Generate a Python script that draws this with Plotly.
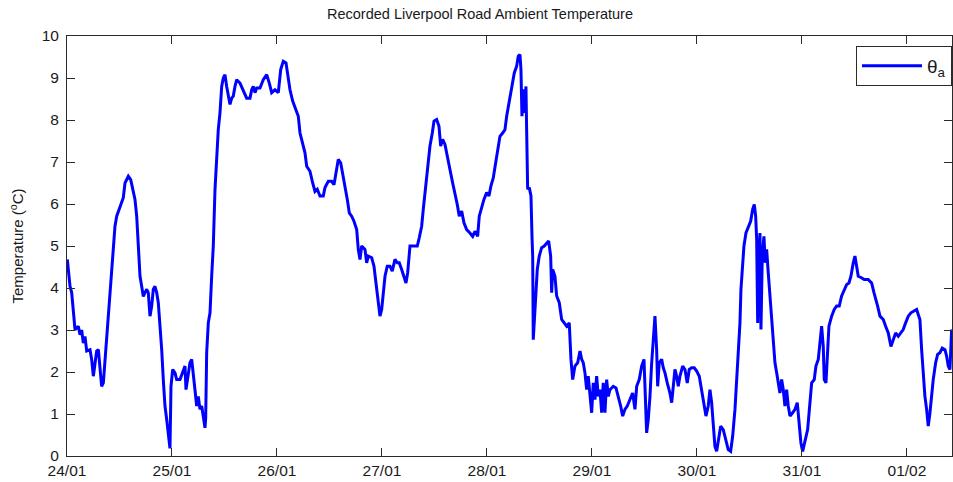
import pandas as pd
import plotly.graph_objects as go

# Hours since 24/01 00:00
hours = [
    0.07, 0.69, 1.07, 1.45, 1.83, 2.59, 2.97, 3.35, 3.73, 4.11, 4.50, 5.26, 5.64, 6.02, 6.40, 6.78,
    7.17, 7.54, 7.92, 8.31, 8.69, 9.07, 9.45, 9.83, 10.21, 10.59, 10.97, 11.36, 11.95, 12.50, 12.87,
    13.26, 14.02, 14.56, 15.02, 15.54, 15.93, 16.30, 16.69, 17.07, 17.44, 17.83, 18.22, 18.58, 18.97,
    19.36, 19.73, 20.11, 20.50, 20.87, 21.26, 21.65, 22.01, 22.40, 22.79, 23.02, 23.38, 23.54, 23.77,
    24.16, 24.69, 25.07, 25.83, 26.58, 26.97, 27.20, 27.59, 28.11, 28.50, 28.87, 29.26, 29.65, 30.01,
    30.40, 30.79, 31.15, 31.54, 31.70, 31.93, 32.30, 32.69, 33.07, 33.44, 33.83, 34.22, 34.58, 34.97,
    35.36, 35.73, 36.11, 36.50, 36.87, 37.26, 37.65, 38.01, 38.40, 38.79, 39.54, 40.30, 41.07, 41.83,
    42.22, 42.58, 42.97, 43.36, 44.11, 44.87, 45.65, 46.24, 46.79, 47.54, 48.30, 48.85, 49.44, 50.06,
    50.45, 50.97, 51.59, 52.34, 52.87, 53.26, 53.87, 54.40, 54.79, 55.54, 56.16, 56.69, 57.21, 57.83,
    58.58, 58.97, 59.73, 60.50, 61.03, 61.49, 62.01, 62.56, 63.02, 63.54, 64.07, 64.53, 65.07, 65.60,
    66.22, 66.58, 66.97, 67.36, 68.11, 68.50, 68.87, 69.65, 70.17, 70.63, 71.15, 71.54, 71.93, 72.30,
    72.69, 73.21, 73.83, 74.35, 74.97, 75.50, 75.95, 76.50, 77.03, 77.49, 77.87, 78.40, 79.15, 80.07,
    80.53, 81.07, 81.44, 81.99, 82.45, 82.97, 83.50, 83.89, 84.50, 85.03, 85.42, 85.87, 86.40, 86.93,
    87.54, 88.16, 88.69, 89.21, 89.67, 90.22, 90.74, 91.36, 92.11, 92.73, 93.26, 93.87, 94.24, 94.79,
    95.31, 95.93, 96.46, 96.91, 97.44, 97.99, 98.51, 98.97, 99.59, 100.11, 100.50, 100.87, 101.42,
    101.88, 102.24, 102.79, 103.15, 103.54, 103.77, 104.00, 104.30, 104.69, 104.91, 105.07, 105.30,
    105.67, 106.06, 106.29, 106.45, 106.58, 106.90, 107.20, 107.50, 107.95, 108.50, 109.10, 109.65,
    110.10, 110.56, 110.79, 111.02, 111.54, 111.93, 112.53, 113.07, 113.60, 114.22, 114.81, 115.20,
    115.59, 116.11, 116.73, 117.26, 117.65, 118.01, 118.40, 118.79, 119.15, 119.54, 119.93, 120.30,
    120.69, 121.07, 121.44, 121.83, 122.22, 122.58, 122.97, 123.36, 123.73, 124.11, 124.87, 125.49,
    126.01, 126.56, 127.02, 127.54, 128.07, 128.69, 129.30, 129.83, 130.22, 130.81, 131.36, 131.89,
    132.27, 132.50, 132.87, 133.26, 133.65, 134.01, 134.40, 134.79, 135.02, 135.38, 135.93, 136.30,
    136.69, 137.21, 137.83, 138.22, 138.58, 138.97, 139.36, 139.73, 140.11, 140.73, 141.26, 141.78,
    142.24, 142.79, 143.38, 143.93, 144.53, 145.07, 145.60, 146.06, 146.58, 146.97, 147.36, 147.73,
    148.11, 148.50, 148.87, 149.42, 150.01, 150.56, 151.15, 151.70, 152.16, 152.69, 153.07, 153.44,
    153.83, 154.06, 154.35, 154.74, 155.20, 155.73, 156.27, 156.73, 157.10, 157.42, 157.65, 157.88,
    158.11, 158.40, 158.63, 158.93, 159.31, 159.61, 159.93, 160.30, 160.69, 161.07, 161.44, 161.83,
    162.22, 162.58, 162.97, 163.36, 163.73, 164.11, 164.50, 164.87, 165.26, 165.87, 166.40, 166.93,
    167.38, 167.77, 168.16, 168.69, 169.30, 169.83, 170.22, 170.81, 171.20, 171.73, 172.11, 172.50,
    172.87, 173.10, 173.49, 173.87, 174.17, 174.79, 175.38, 175.93, 176.53, 177.07, 177.67, 178.21,
    178.74, 179.20, 179.73, 180.11, 180.50, 180.87, 181.49, 182.24, 183.15, 183.93, 184.46, 184.91,
    185.30, 185.83, 186.59, 187.13, 187.73, 188.34, 188.87, 189.42, 190.01, 190.63, 191.15, 191.70,
    192.30, 192.91, 193.67, 194.22, 194.58, 194.97, 195.36, 195.73, 196.11, 196.50, 196.87, 197.26,
    197.65, 198.01, 198.56, 199.02, 199.54, 200.07, 200.69, 201.07, 201.44, 201.83, 202.22, 202.51,
]

temps = [
    4.68, 4.04, 3.89, 3.41, 3.01, 3.09, 2.89, 3.00, 2.69, 2.85, 2.50, 2.53, 2.30, 1.90, 2.20, 2.50,
    2.53, 2.14, 1.66, 1.74, 2.30, 2.69, 3.17, 3.80, 4.36, 4.92, 5.47, 5.71, 5.87, 6.03, 6.15,
    6.50, 6.66, 6.58, 6.35, 6.11, 5.71, 5.08, 4.28, 4.04, 3.80, 3.89, 3.97, 3.89, 3.33,
    3.57, 3.97, 4.04, 3.89, 3.65, 3.17, 2.53, 1.82, 1.19, 0.87, 0.63, 0.23, 0.18, 1.66,
    2.06, 1.98, 1.82, 1.82, 2.06, 2.14, 1.58, 1.90, 2.22, 2.30, 1.90, 1.50, 1.19, 1.42,
    1.11, 1.19, 0.95, 0.67, 0.90, 2.46, 3.17, 3.41, 4.28, 5.00, 6.35, 7.14, 7.77, 8.17,
    8.80, 9.00, 9.08, 8.80, 8.57, 8.37, 8.52, 8.57, 8.80, 8.96, 8.88, 8.69, 8.52, 8.52,
    8.72, 8.80, 8.65, 8.76, 8.76, 8.96, 9.08, 8.88, 8.65, 8.72, 8.65, 9.20, 9.40, 9.36,
    9.04, 8.72, 8.45, 8.21, 8.09, 7.69, 7.46, 7.22, 6.90, 6.78, 6.50, 6.30, 6.35, 6.19,
    6.19, 6.39, 6.54, 6.54, 6.46, 6.74, 7.06, 6.98, 6.74, 6.43, 6.11, 5.79, 5.71, 5.59,
    5.39, 4.92, 4.68, 5.00, 4.92, 4.60, 4.76, 4.72, 4.52, 4.12, 3.73, 3.33, 3.49, 3.81,
    4.28, 4.52, 4.52, 4.40, 4.68, 4.60, 4.60, 4.44, 4.25, 4.12, 4.36, 5.00, 5.00, 5.00,
    5.20, 5.47, 5.87, 6.42, 6.98, 7.38, 7.69, 7.97, 8.01, 7.85, 7.38, 7.54, 7.42, 7.10,
    6.82, 6.50, 6.27, 5.99, 5.71, 5.83, 5.55, 5.39, 5.31, 5.23, 5.35, 5.23, 5.71, 5.95,
    6.11, 6.27, 6.19, 6.43, 6.62, 6.98, 7.30, 7.61, 7.69, 7.77, 8.09, 8.33, 8.61,
    8.96, 9.12, 9.28, 9.52, 9.56, 9.20, 8.09, 8.73, 8.17, 8.80, 7.77, 6.35,
    6.39, 6.19, 5.23, 4.76, 2.77, 3.33, 3.89, 4.44, 4.76, 4.96, 5.00, 5.08,
    5.12, 4.76, 3.89, 4.44, 4.28, 3.81, 3.65, 3.25, 3.17, 3.09, 3.17, 2.30,
    1.82, 2.14, 2.22, 2.50, 2.30, 2.22, 1.98, 1.58, 1.90, 1.50, 1.03, 1.74,
    1.34, 1.90, 1.42, 1.58, 1.03, 1.74, 1.03, 1.82, 1.42, 1.58, 1.66, 1.62,
    1.42, 1.19, 0.95, 1.11, 1.19, 1.34, 1.50, 1.11, 1.66, 1.82, 2.14, 2.30,
    1.27, 0.55, 0.87, 1.42, 2.22, 2.69, 3.33, 2.53, 1.66, 2.22, 2.30, 2.10,
    1.98, 1.74, 1.50, 1.27, 1.58, 2.06, 1.90, 1.66, 1.90, 2.14, 2.06, 1.74,
    2.06, 2.10, 2.10, 2.02, 1.90, 1.58, 1.27, 0.95, 1.19, 1.58, 1.27, 0.63,
    0.23, 0.11, 0.39, 0.71, 0.63, 0.39, 0.15, 0.11, 0.47, 1.11, 1.82, 2.53,
    3.17, 3.97, 4.44, 5.00, 5.31, 5.47, 5.59, 5.87, 5.99, 5.71, 5.16, 3.17,
    4.60, 5.31, 3.01, 4.76, 5.23, 4.60, 4.92, 4.36, 3.81, 3.25, 2.77, 2.22,
    1.98, 1.74, 1.50, 1.82, 1.58, 1.19, 1.58, 1.19, 0.95, 1.03, 1.11, 1.27,
    0.79, 0.31, 0.11, 0.39, 0.63, 1.27, 1.74, 1.82, 2.14, 2.30, 2.69, 3.09,
    2.61, 1.82, 1.74, 2.53, 3.09, 3.33, 3.49, 3.57, 3.57, 3.81, 3.97, 4.08,
    4.12, 4.28, 4.60, 4.76, 4.52, 4.28, 4.25, 4.20, 4.20, 4.12, 3.89, 3.73,
    3.57, 3.33, 3.25, 3.09, 2.93, 2.61, 2.77, 2.93, 2.85, 2.93, 3.01, 3.17,
    3.33, 3.41, 3.45, 3.49, 3.37, 3.25, 2.53, 1.90, 1.42, 1.11, 0.71, 1.03,
    1.50, 1.82, 2.22, 2.42, 2.46, 2.57, 2.53, 2.38, 2.14, 2.06, 3.01, 2.77,
]

start = pd.Timestamp("2011-01-24 00:00")
times = start + pd.to_timedelta(hours, unit="h")
x_end = start + pd.to_timedelta(202.3, unit="h")

tick_vals = [start + pd.Timedelta(days=d) for d in range(9)]
tick_text = ["24/01", "25/01", "26/01", "27/01", "28/01", "29/01", "30/01", "31/01", "01/02"]

axis_color = "#2b2b2b"
font_family = "Liberation Sans, Arial, sans-serif"

fig = go.Figure()
fig.add_trace(go.Scatter(
    x=times, y=temps, mode="lines", name="θ<sub>a</sub>",
    line=dict(color="#0000FF", width=3),
))

fig.update_layout(
    width=953, height=482,
    margin=dict(l=67, r=1, t=36, b=26, autoexpand=False),
    paper_bgcolor="white", plot_bgcolor="white",
    font=dict(family=font_family, size=15, color="#1a1a1a"),
    title=dict(text="Recorded Liverpool Road Ambient Temperature",
               x=480 / 953, xref="container", xanchor="center",
               y=1 - 14 / 482, yref="container", yanchor="middle",
               font=dict(size=14.5, family=font_family, color="#1a1a1a")),
    showlegend=True,
    legend=dict(x=1.0, xanchor="right", y=1 - 10 / 420, yanchor="top",
                bgcolor="white", bordercolor=axis_color, borderwidth=1,
                font=dict(size=19, family=font_family), itemwidth=60,
                tracegroupgap=0),
)

fig.update_xaxes(
    range=[start, x_end], tickvals=tick_vals, ticktext=tick_text,
    showgrid=False, zeroline=False, showline=True, linecolor=axis_color, linewidth=1,
    mirror="allticks", ticks="inside", ticklen=8, tickcolor=axis_color,
    tickfont=dict(size=15.5),
)
fig.update_yaxes(
    range=[0, 10], dtick=1, tick0=0,
    title=dict(text="Temperature (<sup>o</sup>C)", standoff=14, font=dict(size=15)),
    showgrid=False, zeroline=False, showline=True, linecolor=axis_color, linewidth=1,
    mirror="allticks", ticks="inside", ticklen=8, tickcolor=axis_color,
    tickfont=dict(size=15.5), ticklabelstandoff=4,
)

fig.write_html(
    "out.html",
    config={"displayModeBar": False},
    post_script="document.body.style.margin='0';document.body.style.overflow='hidden';",
)
